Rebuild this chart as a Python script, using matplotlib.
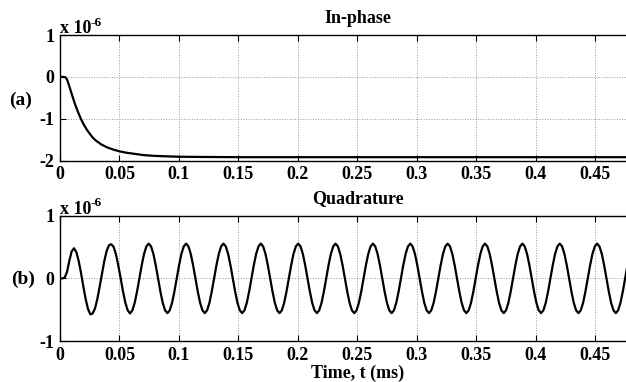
import numpy as np
import matplotlib
matplotlib.use("Agg")
import matplotlib.pyplot as plt

plt.rcParams['font.family'] = ['Liberation Serif', 'DejaVu Serif']
plt.rcParams['font.weight'] = 'bold'
plt.rcParams['mathtext.fontset'] = 'stix'

# in-phase response, units of 1e-6
inph_t = [0, 0.002, 0.004, 0.005, 0.006, 0.007, 0.008, 0.010, 0.0125, 0.015,
          0.0175, 0.02, 0.0225, 0.025, 0.0275, 0.03, 0.035, 0.04, 0.045, 0.05,
          0.055, 0.06, 0.065, 0.07, 0.08, 0.09, 0.1, 0.12, 0.15, 0.2, 0.25,
          0.3, 0.35, 0.4, 0.45, 0.5]
inph_v = [0, 0, -0.005, -0.02, -0.07, -0.15, -0.24, -0.42, -0.64, -0.83,
          -1.00, -1.14, -1.26, -1.36, -1.45, -1.52, -1.62, -1.69, -1.74, -1.78,
          -1.81, -1.83, -1.85, -1.87, -1.89, -1.90, -1.91, -1.915, -1.92, -1.92, -1.92,
          -1.92, -1.92, -1.92, -1.92, -1.92]

# quadrature response, units of 1e-6, sampled every quad_dt ms
quad_dt = 0.0019625
quad_v = [
    0.0, 0.0,
    0.01, 0.10, 0.28, 0.43, 0.48, 0.42, 0.28, 0.09, -0.13, -0.33, -0.49, -0.575, -0.56, -0.48, -0.33, -0.13,
    0.08, 0.28, 0.44, 0.53, 0.545, 0.50, 0.38, 0.20, 0.0, -0.21, -0.39, -0.51, -0.56, -0.51, -0.39, -0.21,
    0.0, 0.21, 0.39, 0.51, 0.555, 0.51, 0.39, 0.21, 0.0, -0.21, -0.39, -0.51, -0.555, -0.51, -0.39, -0.21,
    0.0, 0.21, 0.39, 0.51, 0.555, 0.51, 0.39, 0.21, 0.0, -0.21, -0.39, -0.51, -0.555, -0.51, -0.39, -0.21,
    0.0, 0.21, 0.39, 0.51, 0.555, 0.51, 0.39, 0.21, 0.0, -0.21, -0.39, -0.51, -0.555, -0.51, -0.39, -0.21,
    0.0, 0.21, 0.39, 0.51, 0.555, 0.51, 0.39, 0.21, 0.0, -0.21, -0.39, -0.51, -0.555, -0.51, -0.39, -0.21,
    0.0, 0.21, 0.39, 0.51, 0.555, 0.51, 0.39, 0.21, 0.0, -0.21, -0.39, -0.51, -0.555, -0.51, -0.39, -0.21,
    0.0, 0.21, 0.39, 0.51, 0.555, 0.51, 0.39, 0.21, 0.0, -0.21, -0.39, -0.51, -0.555, -0.51, -0.39, -0.21,
    0.0, 0.21, 0.39, 0.51, 0.555, 0.51, 0.39, 0.21, 0.0, -0.21, -0.39, -0.51, -0.555, -0.51, -0.39, -0.21,
    0.0, 0.21, 0.39, 0.51, 0.555, 0.51, 0.39, 0.21, 0.0, -0.21, -0.39, -0.51, -0.555, -0.51, -0.39, -0.21,
    0.0, 0.21, 0.39, 0.51, 0.555, 0.51, 0.39, 0.21, 0.0, -0.21, -0.39, -0.51, -0.555, -0.51, -0.39, -0.21,
    0.0, 0.21, 0.39, 0.51, 0.555, 0.51, 0.39, 0.21, 0.0, -0.21, -0.39, -0.51, -0.555, -0.51, -0.39, -0.21,
    0.0, 0.21, 0.39, 0.51, 0.555, 0.51, 0.39, 0.21, 0.0, -0.21, -0.39, -0.51, -0.555, -0.51, -0.39, -0.21,
    0.0, 0.21, 0.39, 0.51, 0.555, 0.51, 0.39, 0.21, 0.0, -0.21, -0.39, -0.51, -0.555, -0.51, -0.39, -0.21,
    0.0, 0.21, 0.39, 0.51, 0.555, 0.51, 0.39, 0.21, 0.0, -0.21, -0.39, -0.51, -0.555, -0.51, -0.39, -0.21,
    0.0, 0.21,
]
quad_t = np.arange(len(quad_v)) * quad_dt

xticks = [0, 0.05, 0.1, 0.15, 0.2, 0.25, 0.3, 0.35, 0.4, 0.45]
xticklabels = ['0', '0.05', '0.1', '0.15', '0.2', '0.25', '0.3', '0.35', '0.4', '0.45']

fig = plt.figure(figsize=(6.26, 3.82), dpi=100)
# axes run to 0.5 ms, beyond the right edge of the figure (cropped like the original)
ax1 = fig.add_axes([0.0958, 0.5798, 0.9505, 0.3285])
ax2 = fig.add_axes([0.0958, 0.1073, 0.9505, 0.328])

def style(ax, yticks):
    ax.set_xlim(0, 0.5)
    ax.set_xticks(xticks)
    ax.set_xticklabels(xticklabels)
    ax.set_ylim(yticks[0], yticks[-1])
    ax.set_yticks(yticks)
    ax.set_yticklabels([str(y) for y in yticks])
    ax.tick_params(direction='in', top=True, right=True, length=4.5, width=0.8,
                   labelsize=13, pad=4)
    for lab in ax.get_xticklabels() + ax.get_yticklabels():
        lab.set_fontweight('bold')
    ax.grid(True, linestyle=':', color='#999999', linewidth=0.7)
    for s in ax.spines.values():
        s.set_linewidth(1.0)
    ax.text(0.0, 1.016, 'x 10', transform=ax.transAxes,
            fontsize=13, fontweight='bold', ha='left', va='baseline')
    ax.text(0.052, 1.075, '-6', transform=ax.transAxes,
            fontsize=9.5, fontweight='bold', ha='left', va='baseline')

ax1.plot(inph_t, inph_v, color='black', linewidth=1.6)
style(ax1, [-2, -1, 0, 1])
ax1.set_title('In-phase', fontsize=13, fontweight='bold', pad=9)

ax2.plot(quad_t, quad_v, color='black', linewidth=1.6)
style(ax2, [-1, 0, 1])
ax2.set_title('Quadrature', fontsize=13, fontweight='bold', pad=9)
ax2.set_xlabel('Time, t (ms)', fontsize=13, fontweight='bold', labelpad=1)

fig.text(0.0335, 0.738, '(a)', fontsize=14, fontweight='bold', ha='center', va='center')
fig.text(0.037, 0.269, '(b)', fontsize=14, fontweight='bold', ha='center', va='center')

fig.savefig('out.png', dpi=100)
